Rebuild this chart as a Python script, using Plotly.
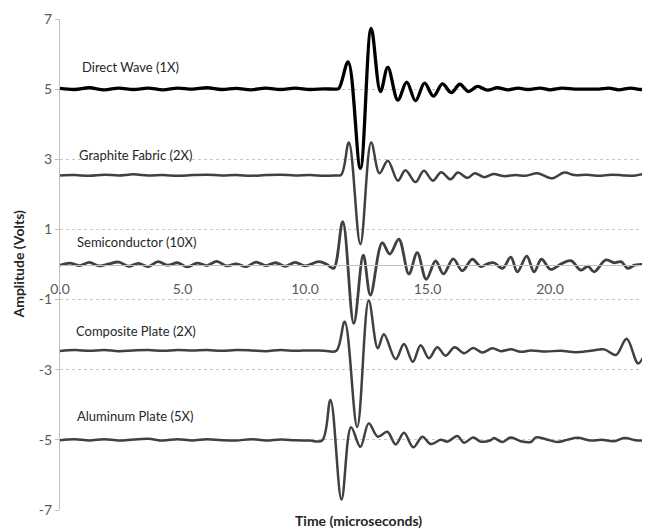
import plotly.graph_objects as go

# ---- data (time in microseconds, amplitude in volts) ----
direct_t = [0.0, 0.6, 1.2, 1.8, 2.4, 3.0, 3.6, 4.2, 4.8, 5.4, 6.0, 6.6, 7.2, 7.8, 8.4, 9.0, 9.6, 10.2, 10.8,
            11.2, 11.38, 11.76, 12.26, 12.70, 13.08, 13.38, 13.79, 14.15, 14.51, 14.88, 15.24, 15.61, 15.97,
            16.32, 16.67, 17.04, 17.44, 17.85, 18.3, 18.7, 19.1, 19.6, 20.0, 20.5, 21.0, 21.5, 22.0, 22.4,
            22.8, 23.3, 23.7, 24.0]
direct_v = [5.02, 4.99, 5.04, 4.98, 5.03, 4.99, 5.03, 4.98, 5.03, 5.00, 5.04, 4.99, 5.02, 4.98, 5.03, 4.99, 5.03, 4.99, 5.01,
            5.00, 5.02, 5.78, 2.74, 6.73, 4.93, 5.62, 4.69, 5.20, 4.67, 5.17, 4.80, 5.15, 4.90,
            5.14, 4.93, 5.08, 4.97, 5.04, 4.98, 5.03, 4.99, 5.03, 4.98, 5.03, 5.00, 5.00, 5.00, 5.03,
            4.98, 5.03, 4.99, 5.01]

graphite_t = [0.0, 0.6, 1.2, 1.8, 2.4, 3.0, 3.6, 4.2, 4.8, 5.4, 6.0, 6.6, 7.2, 7.8, 8.4, 9.0, 9.6, 10.2, 10.8,
              11.2, 11.48, 11.79, 12.26, 12.70, 13.04, 13.38, 13.79, 14.10, 14.51, 14.85, 15.22, 15.56, 15.94,
              16.24, 16.63, 16.93, 17.31, 17.69, 18.1, 18.6, 19.0, 19.49, 20.10, 20.58, 21.0, 21.5, 22.0,
              22.5, 23.0, 23.4, 23.84, 24.0]
graphite_v = [2.54, 2.55, 2.53, 2.56, 2.54, 2.57, 2.54, 2.55, 2.53, 2.55, 2.56, 2.54, 2.55, 2.53, 2.55, 2.56, 2.54, 2.55, 2.53,
              2.54, 2.56, 3.48, 0.58, 3.48, 2.60, 2.96, 2.39, 2.69, 2.35, 2.67, 2.39, 2.63, 2.43,
              2.62, 2.47, 2.60, 2.49, 2.58, 2.52, 2.55, 2.53, 2.60, 2.46, 2.62, 2.55, 2.56, 2.53,
              2.56, 2.54, 2.53, 2.58, 2.55]

semi_t = [0.0, 0.4, 0.8, 1.2, 1.6, 2.0, 2.4, 2.8, 3.2, 3.6, 4.0, 4.4, 4.8, 5.2, 5.6, 6.0, 6.4, 6.8, 7.2, 7.6,
          8.0, 8.4, 8.8, 9.2, 9.6, 10.0, 10.56, 10.9, 11.17, 11.54, 11.99, 12.38, 12.67, 13.15, 13.46, 13.83,
          14.24, 14.58, 14.95, 15.33, 15.65, 16.05, 16.42, 16.83, 17.17, 17.45, 17.71, 18.06, 18.40, 18.67,
          19.05, 19.35, 19.65, 20.03, 20.44, 20.85, 21.26, 21.55, 21.80, 22.28, 22.62, 22.9, 23.17, 23.45,
          23.71, 24.0]
semi_v = [-0.02, 0.04, -0.03, 0.06, -0.04, 0.02, 0.07, -0.05, 0.03, -0.06, 0.08, -0.02, 0.05, -0.07, 0.04, -0.03,
          0.09, -0.04, 0.02, -0.06, 0.07, -0.03, 0.05, -0.05, 0.06, -0.04, 0.08, 0.0, -0.11, 1.22, -1.68, 0.27,
          -0.87, 0.62, 0.30, 0.72, -0.27, 0.34, -0.42, 0.10, -0.27, 0.16, -0.18, 0.15, -0.06, 0.02, 0.05, -0.11,
          0.21, -0.21, 0.24, -0.21, 0.15, -0.14, 0.01, 0.11, -0.16, -0.05, -0.21, 0.13, 0.05, 0.08, -0.11, -0.02,
          0.0, 0.02]

comp_t = [0.0, 0.6, 1.2, 1.8, 2.4, 3.0, 3.6, 4.2, 4.8, 5.4, 6.0, 6.6, 7.2, 7.8, 8.4, 9.0, 9.6, 10.2, 10.8,
          11.28, 11.62, 12.13, 12.60, 12.97, 13.22, 13.70, 14.04, 14.40, 14.72, 15.06, 15.40, 15.74, 16.11,
          16.49, 16.87, 17.24, 17.65, 17.99, 18.40, 18.81, 19.22, 19.83, 20.44, 21.05, 21.67, 22.21, 22.69,
          23.13, 23.60, 24.0]
comp_v = [-2.47, -2.44, -2.46, -2.44, -2.47, -2.45, -2.44, -2.46, -2.44, -2.45, -2.44, -2.46, -2.44, -2.45, -2.47,
          -2.44, -2.46, -2.45, -2.46, -2.46, -1.63, -4.63, -1.03, -2.39, -1.99, -2.70, -2.27, -2.77, -2.30, -2.67,
          -2.36, -2.60, -2.36, -2.53, -2.38, -2.51, -2.39, -2.47, -2.42, -2.49, -2.45, -2.48, -2.46, -2.50, -2.46,
          -2.42, -2.58, -2.12, -2.82, -2.28]

alum_t = [0.0, 0.6, 1.2, 1.8, 2.4, 3.0, 3.6, 4.2, 4.8, 5.4, 6.0, 6.6, 7.2, 7.8, 8.4, 9.0, 9.6, 10.2, 10.70,
          11.04, 11.49, 11.88, 12.26, 12.60, 12.97, 13.36, 13.70, 14.04, 14.42, 14.79, 15.13, 15.54, 15.82,
          16.22, 16.49, 16.87, 17.17, 17.58, 17.71, 18.06, 18.40, 18.81, 19.22, 19.42, 19.83, 20.31, 20.7,
          21.12, 21.67, 22.1, 22.62, 23.03, 23.58, 24.0]
alum_v = [-5.01, -4.98, -5.02, -4.98, -5.02, -4.99, -4.97, -5.02, -4.98, -5.02, -4.98, -5.01, -5.02, -4.98, -5.02,
          -4.99, -5.01, -5.02, -5.02, -3.86, -6.70, -4.64, -5.20, -4.53, -4.91, -4.77, -5.13, -4.80, -5.21, -4.91,
          -5.12, -5.00, -5.05, -4.89, -5.08, -4.93, -5.05, -5.01, -4.95, -5.06, -4.93, -5.04, -5.06, -4.93, -4.98,
          -5.06, -5.00, -4.94, -5.02, -5.00, -5.04, -4.95, -5.02, -5.00]

y_ticks = [7, 5, 3, 1, -1, -3, -5, -7]
y_tick_labels = ["7", "5", "3", "1", "-1", "-3", "-5", "-7"]
x_ticks = [0, 5, 10, 15, 20]
x_tick_labels = ["0.0", "5.0", "10.0", "15.0", "20.0"]

labels = ["Direct Wave (1X)", "Graphite Fabric (2X)", "Semiconductor (10X)", "Composite Plate (2X)", "Aluminum Plate (5X)"]
label_x = [0.82, 0.70, 0.61, 0.57, 0.61]
label_y = [5.64, 3.12, 0.64, -1.90, -4.32]

series = [
    (direct_t, direct_v, "#000000", 3.3),
    (graphite_t, graphite_v, "#404040", 2.5),
    (semi_t, semi_v, "#404040", 2.8),
    (comp_t, comp_v, "#404040", 2.5),
    (alum_t, alum_v, "#404040", 2.5),
]

FONT = "Lato, Open Sans, sans-serif"

fig = go.Figure()
for i in [4, 3, 2, 1, 0]:
    t, v, c, w = series[i]
    fig.add_trace(go.Scatter(x=t, y=v, mode="lines", name=labels[i],
                             line=dict(color=c, width=w, shape="spline", smoothing=1.0),
                             showlegend=False))

for txt, lx, ly in zip(labels, label_x, label_y):
    fig.add_annotation(x=lx, y=ly, xref="x", yref="y", text=txt, showarrow=False,
                       xanchor="left", yanchor="middle",
                       font=dict(family=FONT, size=13, color="#262626"))

fig.add_annotation(x=0.5085, y=-0.0224, xref="paper", yref="paper", text="<b>Time (microseconds)</b>",
                   showarrow=False, xanchor="center", yanchor="middle",
                   font=dict(family=FONT, size=14, color="#262626"))
fig.add_annotation(x=-0.0714, y=0.5, xref="paper", yref="paper", text="<b>Amplitude (Volts)</b>",
                   showarrow=False, xanchor="center", yanchor="middle", textangle=-90,
                   font=dict(family=FONT, size=14, color="#262626"))

fig.update_layout(
    width=642, height=521,
    margin=dict(l=52, r=2, t=11, b=19),
    paper_bgcolor="white", plot_bgcolor="white",
    xaxis=dict(range=[0, 24], tickvals=x_ticks, ticktext=x_tick_labels,
               showgrid=False, zeroline=False, showline=True, linecolor="#bfbfbf", linewidth=1,
               anchor="free", position=0.5, ticks="", ticklabelstandoff=12,
               tickfont=dict(family=FONT, size=14, color="#595959")),
    yaxis=dict(range=[-7, 7], tickvals=y_ticks, ticktext=y_tick_labels,
               showgrid=True, gridcolor="#c8c8c8", griddash="3px,3px",
               gridwidth=1, zeroline=False, showline=True, linecolor="#bfbfbf", linewidth=1,
               ticks="outside", ticklen=4, tickcolor="#bfbfbf",
               tickfont=dict(family=FONT, size=14, color="#595959")),
)

fig.write_html("out.html")
